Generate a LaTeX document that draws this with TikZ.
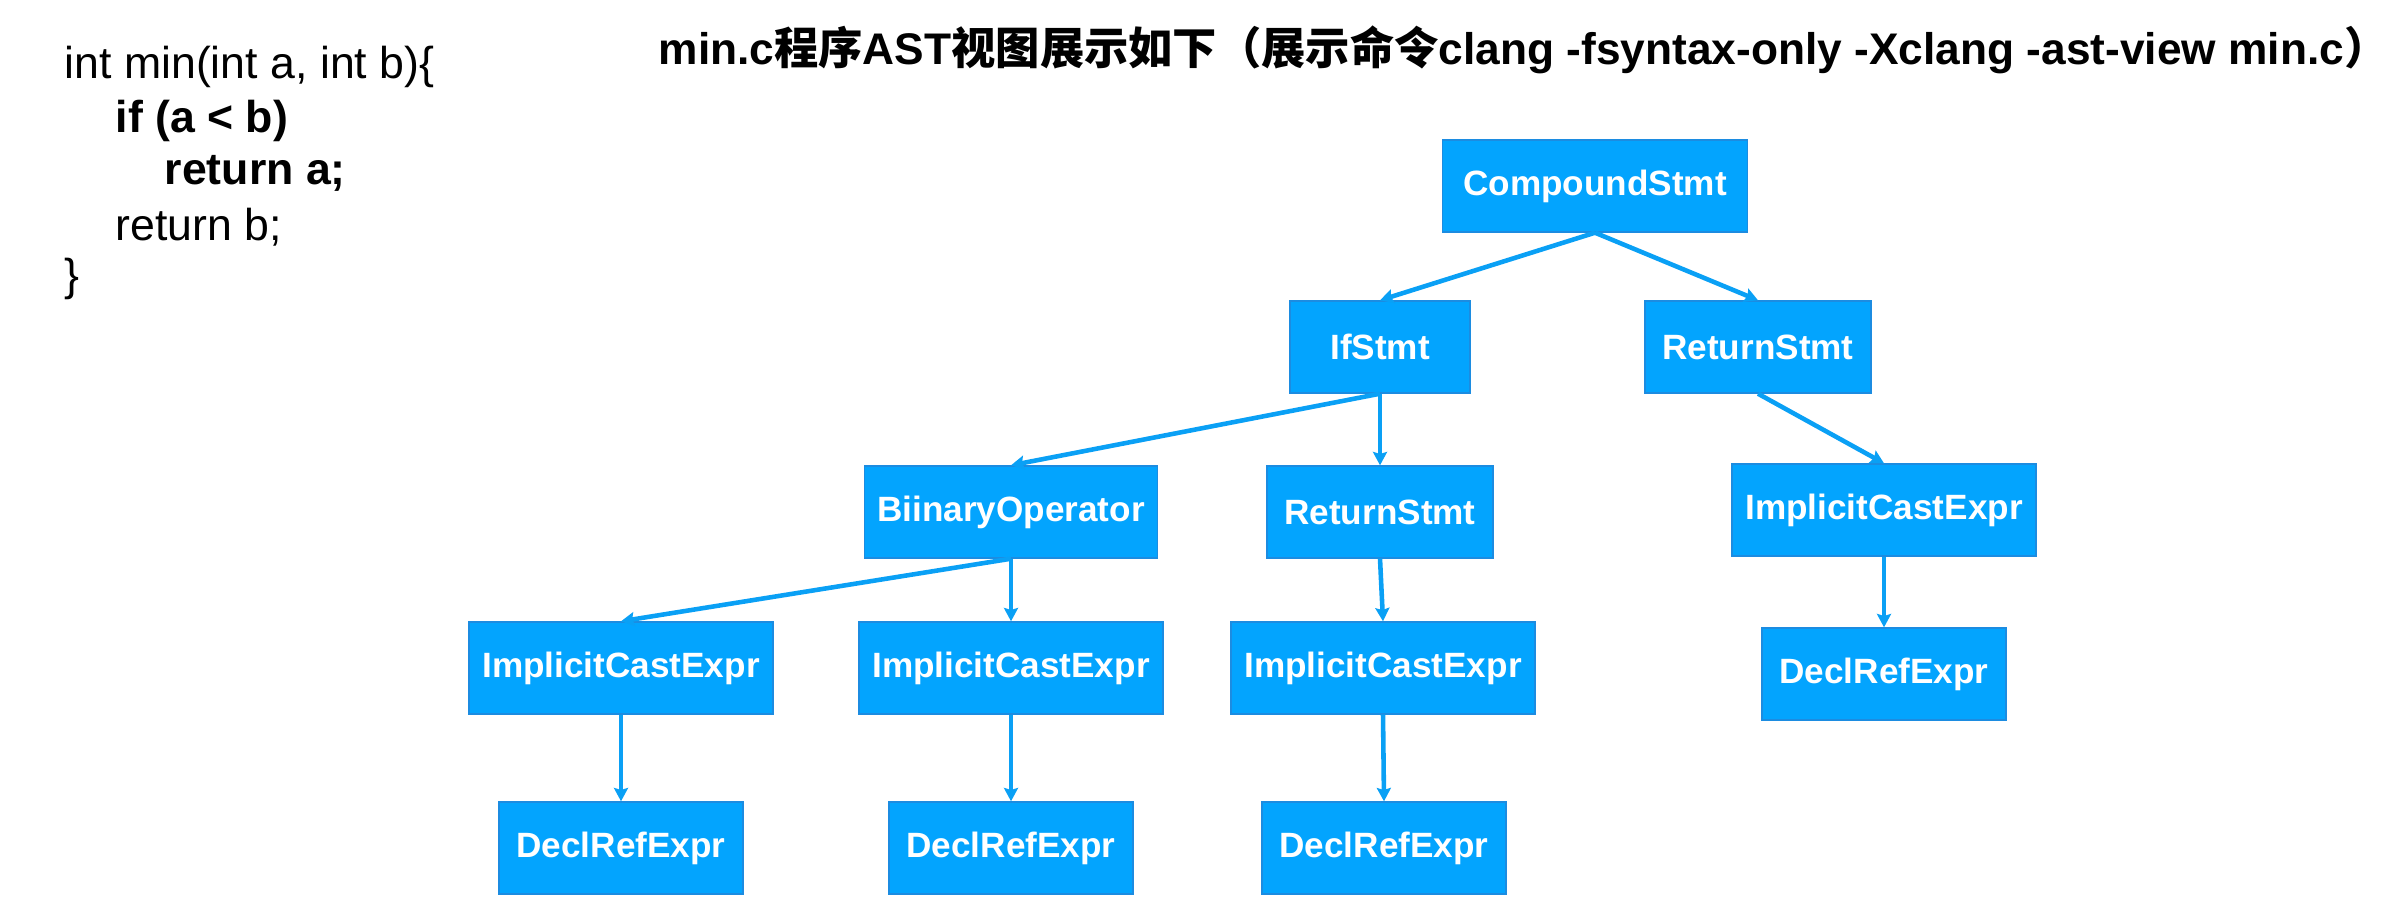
\documentclass[tikz,border=0pt]{standalone}
\usepackage{fontspec}
\setmainfont{Liberation Sans}
\newfontfamily\cjk{Noto Sans CJK SC}
\usepackage{tikz}
\usetikzlibrary{arrows.meta, positioning}
\definecolor{astblue}{RGB}{3,164,254}
\definecolor{astedge}{RGB}{28,140,225}
\definecolor{arrowblue}{RGB}{10,160,245}
\tikzset{
  astbox/.style={rectangle, draw=astedge, fill=astblue, text=white,
    minimum height=9.2mm, inner sep=0pt, line width=0.4pt,
    font=\fontsize{10}{12}\selectfont\bfseries},
  arrow/.style={-{Stealth[length=3.8pt, width=4pt, inset=0.6pt]}, line width=1.3pt, color=arrowblue},
  codeline/.style={anchor=west, inner sep=0pt, font=\fontsize{12.7}{15}\selectfont}
}

\begin{document}
\begin{tikzpicture}[x=0.1mm, y=-0.1mm]
  \useasboundingbox (0,0) rectangle (2400,906);

  % Source code
  \node[codeline] (c1) at (64,67) {int min(int a, int b)\{};
  \node[codeline, font=\fontsize{12.7}{15}\selectfont\bfseries] (c2) at (115,121) {if (a < b)};
  \node[codeline, font=\fontsize{12.7}{15}\selectfont\bfseries] (c3) at (164,173) {return a;};
  \node[codeline] (c4) at (115,227) {return b;};
  \node[codeline] (c5) at (64,279) {\}};

  % Title
  \node[anchor=west, inner sep=0pt, font=\fontsize{12.6}{15}\selectfont\bfseries] (title) at (658,50)
    {min.c{\cjk\bfseries 程序}AST{\cjk\bfseries 视图展示如下（展示命令}clang -fsyntax-only -Xclang -ast-view min.c{\cjk\bfseries ）}};

  % Root
  \node[astbox, minimum width=30.5mm] (cmp) at (1595,186) {CompoundStmt};

  % Level 1
  \node[astbox, minimum width=18mm] (ifs) at (1380,347) {IfStmt};
  \node[astbox, minimum width=22.6mm] (ret1) at (1758,347) {ReturnStmt};

  % Level 2
  \node[astbox, minimum width=29.3mm] (binop) at (1011,512) {BiinaryOperator};
  \node[astbox, minimum width=22.6mm] (ret2) at (1380,512) {ReturnStmt};
  \node[astbox, minimum width=30.4mm] (ice4) at (1884,510) {ImplicitCastExpr};

  % Level 3
  \node[astbox, minimum width=30.4mm] (ice1) at (621,668) {ImplicitCastExpr};
  \node[astbox, minimum width=30.4mm] (ice2) at (1011,668) {ImplicitCastExpr};
  \node[astbox, minimum width=30.4mm] (ice3) at (1383,668) {ImplicitCastExpr};
  \node[astbox, minimum width=24.4mm] (dre4) at (1884,674) {DeclRefExpr};

  % Level 4
  \node[astbox, minimum width=24.4mm] (dre1) at (621,848) {DeclRefExpr};
  \node[astbox, minimum width=24.4mm] (dre2) at (1011,848) {DeclRefExpr};
  \node[astbox, minimum width=24.4mm] (dre3) at (1384,848) {DeclRefExpr};

  % Edges
  \draw[arrow] (cmp.south) -- (ifs.north);
  \draw[arrow] (cmp.south) -- (ret1.north);
  \draw[arrow] (ifs.south) -- (binop.north);
  \draw[arrow] (ifs.south) -- (ret2.north);
  \draw[arrow] (ret1.south) -- (ice4.north);
  \draw[arrow] (binop.south) -- (ice1.north);
  \draw[arrow] (binop.south) -- (ice2.north);
  \draw[arrow] (ret2.south) -- (ice3.north);
  \draw[arrow] (ice4.south) -- (dre4.north);
  \draw[arrow] (ice1.south) -- (dre1.north);
  \draw[arrow] (ice2.south) -- (dre2.north);
  \draw[arrow] (ice3.south) -- (dre3.north);
\end{tikzpicture}
\end{document}
